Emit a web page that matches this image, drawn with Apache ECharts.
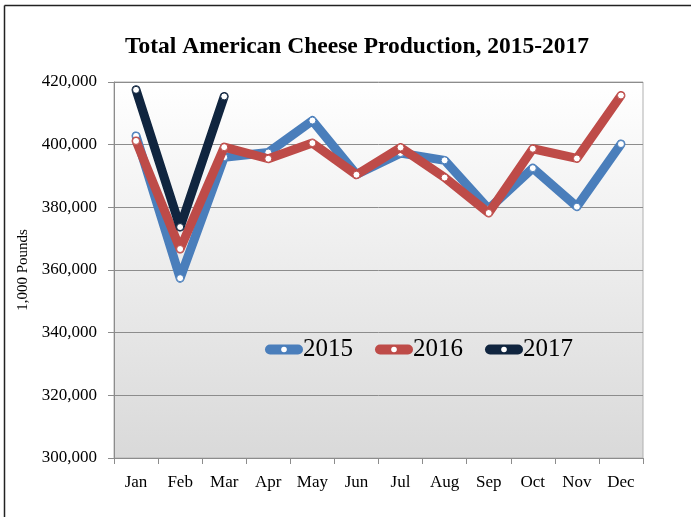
<!DOCTYPE html>
<html>
<head>
<meta charset="utf-8">
<script src="https://cdn.jsdelivr.net/npm/echarts@6/dist/echarts.min.js"></script>
<style>
    html, body { margin: 0; padding: 0; background: #fff; }
    #chart { width: 691px; height: 517px; }
</style>
</head>
<body>
<div id="chart"></div>
<script>
// data
const months = ['Jan', 'Feb', 'Mar', 'Apr', 'May', 'Jun', 'Jul', 'Aug', 'Sep', 'Oct', 'Nov', 'Dec'];
const prod2015 = [402800, 357400, 396000, 397500, 407700, 390500, 397300, 395000, 379500, 392500, 380200, 400200];
const prod2016 = [401200, 366700, 399200, 395500, 400500, 390400, 399100, 389500, 378200, 398700, 395600, 415700];
const prod2017 = [417500, 373700, 415400];

const font = 'Liberation Serif, Times New Roman, serif';
const colors = { '2015': '#4a7ebb', '2016': '#be4b48', '2017': '#10253f' };

const chart = echarts.init(document.getElementById('chart'));

function lineSeries(name, data, z) {
    const color = colors[name];
    return {
        name: name,
        type: 'line',
        data: data,
        z: z,
        symbol: 'circle',
        symbolSize: 7,
        showAllSymbol: true,
        lineStyle: { color: color, width: 9, cap: 'round', join: 'round' },
        itemStyle: { color: '#fff', borderColor: color, borderWidth: 1 },
        emphasis: { disabled: true },
        animation: false
    };
}

chart.setOption({
    title: {
        text: 'Total American Cheese Production, 2015-2017',
        left: 120,
        top: 30,
        textStyle: { fontFamily: font, fontSize: 23.5, fontWeight: 'bold', color: '#000' }
    },
    legend: {
        top: 332,
        left: 260,
        itemWidth: 28,
        itemHeight: 7,
        itemGap: 22,
        lineStyle: { width: 10, cap: 'round' },
        itemStyle: { borderWidth: 0 },
        textStyle: { fontFamily: font, fontSize: 25, color: '#000' },
        data: ['2015', '2016', '2017']
    },
    grid: {
        left: 114,
        right: 48,
        top: 82,
        bottom: 59,
        show: true,
        borderColor: '#b0b0b0',
        borderWidth: 1,
        backgroundColor: {
            type: 'linear', x: 0, y: 0, x2: 0, y2: 1,
            colorStops: [
                { offset: 0, color: '#ffffff' },
                { offset: 1, color: '#d9d9d9' }
            ]
        }
    },
    xAxis: {
        type: 'category',
        data: months,
        boundaryGap: true,
        axisLine: { lineStyle: { color: '#8c8c8c' } },
        axisTick: { show: true, length: 6, lineStyle: { color: '#8c8c8c' } },
        axisLabel: { fontFamily: font, fontSize: 17, color: '#000', margin: 16 }
    },
    yAxis: {
        type: 'value',
        min: 300000,
        max: 420000,
        interval: 20000,
        name: '1,000 Pounds',
        nameLocation: 'middle',
        nameGap: 78,
        nameTextStyle: { fontFamily: font, fontSize: 15, color: '#000' },
        axisLine: { show: true, lineStyle: { color: '#8c8c8c' } },
        axisTick: { show: true, length: 6, lineStyle: { color: '#8c8c8c' } },
        splitLine: { lineStyle: { color: '#8c8c8c', width: 1 } },
        axisLabel: {
            fontFamily: font, fontSize: 17, color: '#000', margin: 17,
            formatter: v => v.toLocaleString('en-US')
        }
    },
    graphic: [
        { type: 'line', shape: { x1: 4.5, y1: 5.5, x2: 691, y2: 5.5 }, style: { stroke: '#222', lineWidth: 1.5 } },
        { type: 'line', shape: { x1: 4.5, y1: 5.5, x2: 4.5, y2: 517 }, style: { stroke: '#222', lineWidth: 1.5 } }
    ],
    series: [
        lineSeries('2015', prod2015, 2),
        lineSeries('2016', prod2016, 3),
        lineSeries('2017', prod2017, 4)
    ]
});
</script>
</body>
</html>
